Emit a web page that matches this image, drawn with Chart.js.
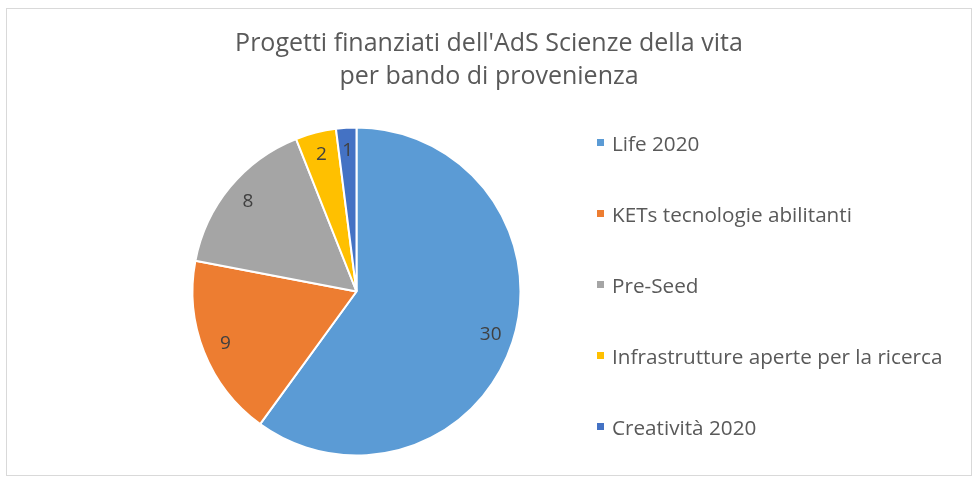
<!DOCTYPE html>
<html>
<head>
<meta charset="utf-8">
<script src="https://cdn.jsdelivr.net/npm/chart.js@4.4.1/dist/chart.umd.min.js"></script>
<style>
  body { margin: 0; background: #fff; }
  #wrap { position: relative; width: 979px; height: 484px; overflow: hidden; }
  #frame {
    position: absolute; left: 6px; top: 8px; width: 966px; height: 468px;
    border: 1px solid #d9d9d9; box-sizing: border-box;
  }
  #title {
    position: absolute; left: 6px; top: 25px; width: 966px; text-align: center;
    font-family: 'Open Sans', sans-serif; font-size: 25px; line-height: 33px; color: #595959;
  }
  #legend {
    position: absolute; left: 597px; top: 107px;
    font-family: 'Open Sans', sans-serif; font-size: 20.7px; color: #595959;
  }
  #legend ul { list-style: none; margin: 0; padding: 0; }
  #legend li { height: 71px; display: flex; align-items: center; white-space: nowrap; }
  #legend .box { width: 7px; height: 7px; margin-right: 8px; }
  canvas { position: absolute; left: 0; top: 0; }
</style>
</head>
<body>
<div id="wrap">
  <div id="frame"></div>
  <canvas id="chart" width="979" height="484"></canvas>
  <div id="title"></div>
  <div id="legend"></div>
</div>
<script>
const titleLines = ['Progetti finanziati dell\'AdS Scienze della vita', 'per bando di provenienza'];
const categories = ['Life 2020', 'KETs tecnologie abilitanti', 'Pre-Seed', 'Infrastrutture aperte per la ricerca', 'Creatività 2020'];
const projects = [30, 9, 8, 2, 1];
const colors = ['#5B9BD5', '#ED7D31', '#A5A5A5', '#FFC000', '#4472C4'];

document.getElementById('title').innerHTML = titleLines.join('<br>');

// legend in html so the rows can be spaced like the original
const htmlLegend = {
  id: 'htmlLegend',
  afterUpdate(chart) {
    const box = document.getElementById('legend');
    box.innerHTML = '';
    const ul = document.createElement('ul');
    const items = chart.options.plugins.legend.labels.generateLabels(chart);
    items.forEach(item => {
      const li = document.createElement('li');
      const sq = document.createElement('span');
      sq.className = 'box';
      sq.style.background = item.fillStyle;
      const txt = document.createElement('span');
      txt.textContent = item.text;
      li.appendChild(sq);
      li.appendChild(txt);
      ul.appendChild(li);
    });
    box.appendChild(ul);
  }
};

const sliceLabels = {
  id: 'sliceLabels',
  afterDatasetsDraw(chart) {
    const { ctx } = chart;
    const meta = chart.getDatasetMeta(0);
    ctx.save();
    ctx.font = '19px "Open Sans", sans-serif';
    ctx.fillStyle = '#404040';
    ctx.textAlign = 'center';
    ctx.textBaseline = 'middle';
    meta.data.forEach((arc, i) => {
      const { startAngle, endAngle, outerRadius, x, y } = arc.getProps(['startAngle', 'endAngle', 'outerRadius', 'x', 'y'], true);
      const mid = (startAngle + endAngle) / 2;
      const r = outerRadius * 0.86;
      ctx.fillText(String(projects[i]), x + Math.cos(mid) * r, y + Math.sin(mid) * r);
    });
    ctx.restore();
  }
};

new Chart(document.getElementById('chart'), {
  type: 'pie',
  data: {
    labels: categories,
    datasets: [{
      data: projects,
      backgroundColor: colors,
      borderColor: '#ffffff',
      borderWidth: 2
    }]
  },
  options: {
    responsive: false,
    animation: false,
    radius: 164,
    layout: { padding: { left: 20, right: 286, top: 110, bottom: 11 } },
    plugins: {
      legend: { display: false },
      tooltip: { enabled: false },
      title: { display: false }
    }
  },
  plugins: [htmlLegend, sliceLabels]
});
</script>
</body>
</html>
